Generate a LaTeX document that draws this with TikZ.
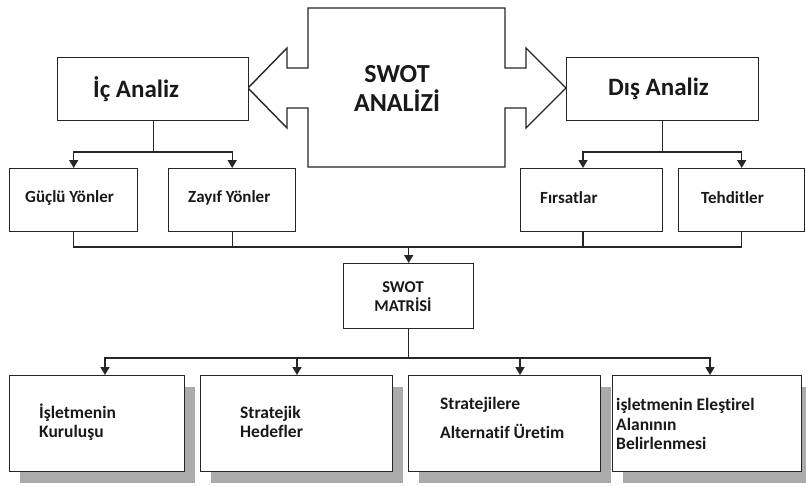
\documentclass[tikz,border=0pt]{standalone}
\usepackage{fontspec}
\setmainfont[Ligatures={NoCommon}]{Carlito}
\usetikzlibrary{arrows.meta,shadows}
\begin{document}
\begin{tikzpicture}[x=1pt,y=-1pt,
  box/.style={draw=black!85, line width=1.4pt, fill=white, inner sep=0pt, anchor=north west},
  sbox/.style={box, drop shadow={shadow xshift=10pt, shadow yshift=-11pt, fill=black!33, opacity=1}},
  ln/.style={draw=black!85, line width=1.4pt},
  arr/.style={ln, -{Triangle[width=9pt,length=8pt]}},
  big/.style={font=\bfseries\fontsize{25}{29}\selectfont, text=black!90, inner sep=0pt},
  small/.style={font=\bfseries\fontsize{17}{20}\selectfont, text=black!90, inner sep=0pt, anchor=west},
  bot/.style={font=\bfseries\fontsize{17.5}{19.5}\selectfont, text=black!90, inner sep=0pt, anchor=west, align=left}]
\useasboundingbox (0,0) rectangle (806,485);
\fill[white] (0,0) rectangle (806,485);

% central double arrow shape
\draw[ln] (308,8) -- (505,8) -- (505,68) -- (526,68) -- (526,48) -- (566,88) -- (526,128)
  -- (526,108) -- (505,108) -- (505,167) -- (308,167) -- (308,108) -- (287,108) -- (287,128)
  -- (248,88) -- (287,48) -- (287,68) -- (308,68) -- cycle;
\node[big, align=center, font=\bfseries\fontsize{26}{29}\selectfont] (swot) at (397,88) {SWOT\\ANALİZİ};

% top boxes
\node[box, minimum width=191pt, minimum height=63pt] (ic) at (57,57) {};
\node[box, minimum width=192pt, minimum height=63pt] (dis) at (566,57) {};
\node[big, anchor=west] (ict) at (93,89) {İç Analiz};
\node[big, anchor=west] (dist) at (608,89) {Dış Analiz};

% second row
\node[box, minimum width=128pt, minimum height=63pt] (guclu) at (9,168) {};
\node[box, minimum width=127pt, minimum height=63pt] (zayif) at (168,168) {};
\node[box, minimum width=142pt, minimum height=63pt] (firsat) at (520,168) {};
\node[box, minimum width=126pt, minimum height=63pt] (tehdit) at (678,168) {};
\node[small] (gt) at (25,198) {Güçlü Yönler};
\node[small] (zt) at (188,198) {Zayıf Yönler};
\node[small] (ft) at (540,198) {Fırsatlar};
\node[small] (tt) at (701,198) {Tehditler};

% matrix
\node[box, minimum width=130pt, minimum height=65pt] (matris) at (343,263) {};
\node[font=\bfseries\fontsize{16.5}{19}\selectfont, text=black!90, inner sep=0pt, align=center] (mt) at (403,297) {SWOT\\MATRİSİ};

% bottom boxes
\node[sbox, minimum width=175pt, minimum height=96pt] (b1) at (9,375) {};
\node[sbox, minimum width=192pt, minimum height=96pt] (b2) at (200,375) {};
\node[sbox, minimum width=192pt, minimum height=96pt] (b3) at (408,375) {};
\node[sbox, minimum width=189pt, minimum height=96pt] (b4) at (612,375) {};
\node[bot] (b1t) at (39,422) {İşletmenin\\Kuruluşu};
\node[bot] (b2t) at (240,422) {Stratejik\\Hedefler};
\node[bot, font=\bfseries\fontsize{17.5}{29}\selectfont] (b3t) at (440,418) {Stratejilere\\Alternatif Üretim};
\node[bot] (b4t) at (616,424) {işletmenin Eleştirel\\Alanının\\Belirlenmesi};

% connectors top-left
\coordinate (icj) at (ic.south |- 0,152);
\draw[ln] (ic.south) -- (icj);
\draw[arr] (icj) -| (guclu.north);
\draw[arr] (icj) -| (zayif.north);
% connectors top-right
\coordinate (disj) at (dis.south |- 0,152);
\coordinate (fin) at (583,168);
\draw[ln] (dis.south) -- (disj);
\draw[arr] (disj) -| (fin);
\draw[arr] (disj) -| (tehdit.north);

% collect to matrix
\coordinate (hub) at (matris.north |- 0,247);
\coordinate (fout) at (583,231);
\draw[ln] (guclu.south) |- (hub);
\draw[ln] (zayif.south) -- (zayif.south |- hub);
\draw[ln] (tehdit.south) |- (hub);
\draw[ln] (fout) -- (fout |- hub);
\draw[arr] (hub) -- (matris.north);

% matrix to bottom
\coordinate (mj) at (matris.south |- 0,358);
\coordinate (a1) at (105,375);
\coordinate (a2) at (297,375);
\coordinate (a3) at (520,375);
\coordinate (a4) at (710,375);
\draw[ln] (matris.south) -- (mj);
\draw[arr] (mj) -| (a1);
\draw[arr] (mj) -| (a2);
\draw[arr] (mj) -| (a3);
\draw[arr] (mj) -| (a4);
\end{tikzpicture}
\end{document}
